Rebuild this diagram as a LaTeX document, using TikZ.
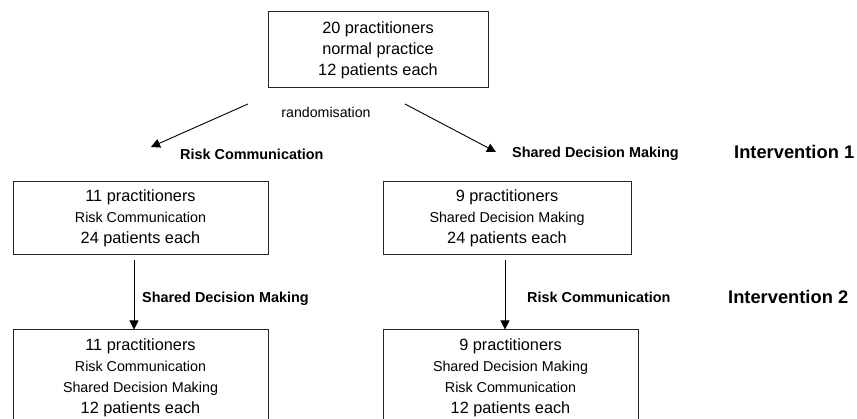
\documentclass[tikz,border=0pt]{standalone}
\usepackage{fontspec}
\setmainfont{Liberation Sans}
\usetikzlibrary{arrows.meta}
\begin{document}
\begin{tikzpicture}[x=1pt,y=-1pt,
  box/.style={draw=black!85, line width=1pt, align=center, inner sep=0pt,
    font=\fontsize{16.3}{21}\selectfont},
  arr/.style={line width=0.9pt, -{Triangle[length=9pt,width=9pt]}},
  lbl/.style={font=\bfseries\fontsize{14.4}{17}\selectfont, anchor=base west, inner sep=0pt},
  biglbl/.style={font=\bfseries\fontsize{18.3}{22}\selectfont, anchor=base west, inner sep=0pt}]
\newcommand{\smallline}[1]{{\fontsize{14.3}{21}\selectfont #1}}
\useasboundingbox (0,0) rectangle (857,419);
\clip (0,0) rectangle (857,419);

% boxes
\node[box, minimum width=220pt, minimum height=76pt] (top) at (378,50)
  {20 practitioners\\normal practice\\12 patients each};
\node[box, minimum width=255pt, minimum height=73pt] (ml) at (140.5,218.5)
  {11 practitioners\\\smallline{Risk Communication}\\24 patients each};
\node[box, minimum width=248pt, minimum height=73pt] (mr) at (507,218.5)
  {9 practitioners\\\smallline{Shared Decision Making}\\24 patients each};
\node[box, minimum width=255pt, minimum height=95pt] (bl) at (140.5,377.5)
  {11 practitioners\\\smallline{Risk Communication}\\\smallline{Shared Decision Making}\\12 patients each};
\node[box, minimum width=255pt, minimum height=95pt] (br) at (510.5,377.5)
  {9 practitioners\\\smallline{Shared Decision Making}\\\smallline{Risk Communication}\\12 patients each};

% randomisation arrows
\coordinate (r1s) at (248,104);
\coordinate (r1e) at (151,147);
\coordinate (r2s) at (405,104);
\coordinate (r2e) at (496,152);
\draw[arr] (r1s) -- (r1e);
\draw[arr] (r2s) -- (r2e);

% vertical arrows
\coordinate (v1s) at (134,260);
\coordinate (v2s) at (505,260);
\draw[arr] (v1s) -- (bl.north -| v1s);
\draw[arr] (v2s) -- (br.north -| v2s);

% labels
\node[font=\fontsize{14.2}{17}\selectfont, anchor=base, inner sep=0pt] (rand) at (326,118) {randomisation};
\node[lbl] (rc1) at (180,160) {Risk Communication};
\node[lbl] (sdm1) at (512,158) {Shared Decision Making};
\node[biglbl] (int1) at (734,158.5) {Intervention 1};
\node[lbl] (sdm2) at (142,303) {Shared Decision Making};
\node[lbl] (rc2) at (527,303) {Risk Communication};
\node[biglbl] (int2) at (728,303.5) {Intervention 2};
\end{tikzpicture}
\end{document}
